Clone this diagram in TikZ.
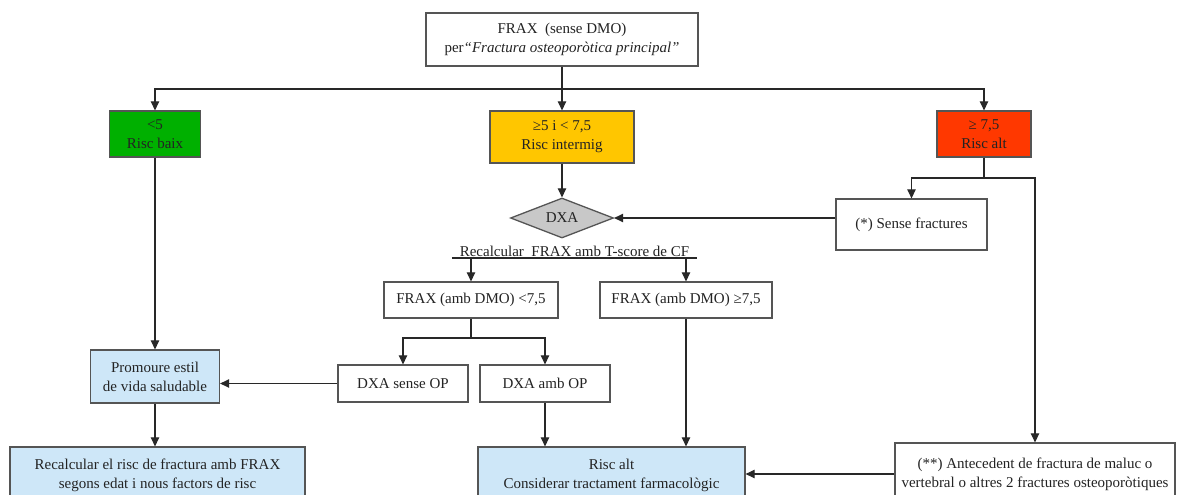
\documentclass[tikz,border=0pt]{standalone}
\usepackage{fontspec}
\setmainfont{Liberation Serif}
\usetikzlibrary{shapes.geometric,arrows.meta}
\newcommand\fsz{\fontsize{15}{19}\selectfont}
\definecolor{boxgray}{RGB}{85,85,85}
\definecolor{linegray}{RGB}{40,40,40}
\definecolor{cgreen}{RGB}{0,176,0}
\definecolor{cyellow}{RGB}{255,198,0}
\definecolor{cred}{RGB}{255,56,0}
\definecolor{cblue}{RGB}{206,231,248}
\definecolor{cdiam}{RGB}{200,200,200}
\definecolor{ctext}{RGB}{35,35,35}
\begin{document}
\begin{tikzpicture}[x=1pt,y=-1pt,
  box/.style={draw=boxgray, line width=1.3pt, fill=white, align=center, inner sep=2pt, font=\fsz, text=ctext},
  conn/.style={draw=linegray, line width=1.1pt},
  arr/.style={conn, -{Triangle[width=8.5pt,length=9pt]}}]
\useasboundingbox (0,0) rectangle (1184,495);
\clip (0,0) rectangle (1184,495);
\fill[white] (0,0) rectangle (1184,495);

% nodes
\node[box, minimum width=272, minimum height=53] (top) at (562,39.5)
  {FRAX~ (sense DMO)\\per\textit{“Fractura osteoporòtica principal”}};
\node[box, fill=cgreen, minimum width=91, minimum height=46] (green) at (155,134) {<5\\Risc baix};
\node[box, fill=cyellow, minimum width=144, minimum height=52] (yellow) at (562,137) {≥5 i < 7,5\\Risc intermig};
\node[box, fill=cred, minimum width=94, minimum height=46] (red) at (984,134) {≥ 7,5\\Risc alt};
\node[box, minimum width=151, minimum height=51] (sense) at (911.5,224.5) {(*) Sense fractures};
\node[box, shape=diamond, fill=cdiam, minimum width=103, minimum height=40, inner sep=0pt, aspect=2.5] (dxa) at (562,218) {DXA};
\node[font=\fsz, text=ctext, inner sep=1pt, minimum width=245, anchor=south] (rec) at (574.5,258) {Recalcular~ FRAX amb T-score de CF};
\node[box, minimum width=174, minimum height=36] (flo) at (471,300) {FRAX (amb DMO) <7,5};
\node[box, minimum width=172, minimum height=36] (fhi) at (686,300) {FRAX (amb DMO) ≥7,5};
\node[box, minimum width=130, minimum height=37] (dsen) at (403,383.5) {DXA sense OP};
\node[box, minimum width=130, minimum height=37] (damb) at (545,383.5) {DXA amb OP};
\node[box, fill=cblue, minimum width=129, minimum height=53] (prom) at (155,376.5) {Promoure estil\\de vida saludable};
\node[box, fill=cblue, minimum width=295, minimum height=56] (recal) at (157.5,475) {Recalcular el risc de fractura amb FRAX\\segons edat i nous factors de risc};
\node[box, fill=cblue, minimum width=267, minimum height=56] (risc) at (611.5,475) {Risc alt\\Considerar tractament farmacològic};
\node[box, minimum width=280, minimum height=62] (star) at (1035,474) {(**) Antecedent de fractura de maluc o\\vertebral o altres 2 fractures osteoporòtiques};

% connectors
\coordinate (tj) at (562,89);
\draw[arr] (top.south) -- (yellow.north);
\draw[arr] (tj) -| (green.north);
\draw[arr] (tj) -| (red.north);
\draw[arr] (yellow.south) -- (dxa.north);
\coordinate (rj) at (984,178);
\draw[conn] (red.south) -- (rj);
\draw[arr] (rj) -| (sense.north);
\draw[arr] (rj) -| (star.north);
\draw[arr] (sense.west |- dxa.east) -- (dxa.east);
\draw[conn] (rec.south west) -- (rec.south east);
\draw[arr] (rec.south west -| flo.north) -- (flo.north);
\draw[arr] (rec.south west -| fhi.north) -- (fhi.north);
\coordinate (fj) at (471,338);
\draw[conn] (flo.south) -- (fj);
\draw[arr] (fj) -| (dsen.north);
\draw[arr] (fj) -| (damb.north);
\draw[arr] (dsen.west) -- (dsen.west -| prom.east);
\draw[arr] (green.south) -- (prom.north);
\draw[arr] (prom.south) -- (prom.south |- recal.north);
\draw[arr] (damb.south) -- (damb.south |- risc.north);
\draw[arr] (fhi.south) -- (fhi.south |- risc.north);
\draw[arr] (star.west) -- (star.west -| risc.east);
\end{tikzpicture}
\end{document}
